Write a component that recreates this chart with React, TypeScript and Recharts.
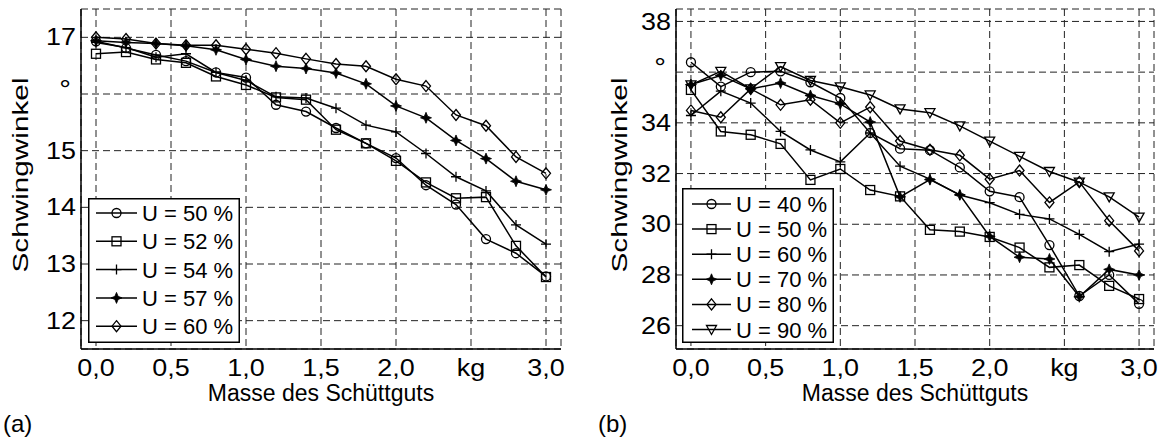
import { CartesianGrid, Label, Legend, Line, LineChart, XAxis, YAxis } from "recharts";

// Masse des Schüttguts in kg
const masse = [0, 0.2, 0.4, 0.6, 0.8, 1.0, 1.2, 1.4, 1.6, 1.8, 2.0, 2.2, 2.4, 2.6, 2.8, 3.0];
const xTicks = [0, 0.5, 1, 1.5, 2, 2.5, 3];

// (a) Schwingwinkel in Grad
const a50 = [16.93, 16.81, 16.69, 16.58, 16.38, 16.29, 15.81, 15.69, 15.4, 15.13, 14.87, 14.39, 14.05, 13.44, 13.19, 12.78];
const a52 = [16.71, 16.74, 16.61, 16.55, 16.31, 16.16, 15.94, 15.9, 15.37, 15.13, 14.82, 14.44, 14.16, 14.18, 13.32, 12.77];
const a54 = [16.91, 16.82, 16.65, 16.71, 16.38, 16.24, 15.95, 15.93, 15.75, 15.45, 15.33, 14.95, 14.54, 14.29, 13.69, 13.35];
const a57 = [16.94, 16.91, 16.89, 16.85, 16.78, 16.61, 16.49, 16.45, 16.37, 16.18, 15.79, 15.58, 15.18, 14.86, 14.46, 14.31];
const a60 = [17.0, 16.97, 16.89, 16.86, 16.86, 16.79, 16.72, 16.62, 16.53, 16.49, 16.26, 16.14, 15.63, 15.44, 14.89, 14.6];
const yTicksA = [12, 13, 14, 15, 16, 17];

// (b)
const b40 = [36.39, 35.43, 36.0, 36.03, 35.6, 34.98, 33.6, 32.98, 32.92, 32.24, 31.3, 31.07, 29.18, 27.17, 28.0, 26.86];
const b50 = [35.3, 33.66, 33.53, 33.17, 31.75, 32.18, 31.35, 31.1, 29.78, 29.71, 29.5, 29.08, 28.3, 28.39, 27.57, 27.05];
const b60 = [34.29, 35.25, 34.78, 33.66, 32.93, 32.46, 33.6, 32.29, 31.78, 31.15, 30.85, 30.39, 30.21, 29.6, 28.92, 29.22];
const b70 = [35.51, 35.87, 35.34, 35.57, 35.08, 34.75, 34.03, 31.08, 31.76, 31.16, 29.52, 28.7, 28.63, 27.14, 28.22, 28.0];
const b80 = [34.49, 34.22, 35.34, 34.71, 34.91, 34.0, 34.62, 33.28, 32.94, 32.72, 31.78, 32.12, 30.86, 31.67, 30.14, 28.95];
const b90 = [35.5, 36.03, 35.34, 36.22, 35.67, 35.42, 35.1, 34.55, 34.4, 33.88, 33.28, 32.68, 32.08, 31.66, 31.08, 30.28];
const yTicksB = [26, 28, 30, 32, 34, 36, 38];

const FONT = "'Liberation Sans', Arial, sans-serif";

type Shape = "circle" | "square" | "plus" | "star" | "diamond" | "triangle";

const seriesA: { key: string; name: string; shape: Shape; values: number[] }[] = [
  { key: "u50", name: "U = 50 %", shape: "circle", values: a50 },
  { key: "u52", name: "U = 52 %", shape: "square", values: a52 },
  { key: "u54", name: "U = 54 %", shape: "plus", values: a54 },
  { key: "u57", name: "U = 57 %", shape: "star", values: a57 },
  { key: "u60", name: "U = 60 %", shape: "diamond", values: a60 },
];

const seriesB: { key: string; name: string; shape: Shape; values: number[] }[] = [
  { key: "u40", name: "U = 40 %", shape: "circle", values: b40 },
  { key: "u50", name: "U = 50 %", shape: "square", values: b50 },
  { key: "u60", name: "U = 60 %", shape: "plus", values: b60 },
  { key: "u70", name: "U = 70 %", shape: "star", values: b70 },
  { key: "u80", name: "U = 80 %", shape: "diamond", values: b80 },
  { key: "u90", name: "U = 90 %", shape: "triangle", values: b90 },
];

const toRows = (series: typeof seriesA) =>
  masse.map((m, i) => {
    const row: Record<string, number> = { m };
    series.forEach((s) => (row[s.key] = s.values[i]));
    return row;
  });

const rowsA = toRows(seriesA);
const rowsB = toRows(seriesB);

const fmtX = (v: number) => (v === 2.5 ? "kg" : v.toFixed(1).replace(".", ","));

// tick text in the original is a bit wider than plain Arial
const STRETCH = 1.17;

function XTick({ x, y, payload }: any) {
  return (
    <text
      x={x}
      y={y}
      dy="0.71em"
      textAnchor="middle"
      transform={`translate(${x},0) scale(${STRETCH},1) translate(${-x},0)`}
      fontFamily={FONT}
      fontSize={23}
      fill="#000"
    >
      {fmtX(payload.value)}
    </text>
  );
}

function makeYTick(degreeAt: number) {
  return function YTick({ x, y, payload }: any) {
    const deg = payload.value === degreeAt;
    const tx = deg ? x - 5 : x;
    return (
      <text
        x={tx}
        y={deg ? y + 4 : y}
        dy={deg ? 0 : "0.355em"}
        textAnchor="end"
        transform={`translate(${tx},0) scale(${STRETCH},1) translate(${-tx},0)`}
        fontFamily={FONT}
        fontSize={deg ? 25 : 23}
        fill="#000"
      >
        {deg ? "°" : String(payload.value)}
      </text>
    );
  };
}

function Marker({ shape, cx, cy }: { shape: Shape; cx: number; cy: number }) {
  const st = { stroke: "#000", strokeWidth: 1.3, fill: "none" };
  switch (shape) {
    case "circle":
      return <circle cx={cx} cy={cy} r={4.5} {...st} />;
    case "square":
      return <rect x={cx - 4.5} y={cy - 4.5} width={9} height={9} {...st} />;
    case "plus":
      return <path d={`M${cx - 5},${cy}H${cx + 5}M${cx},${cy - 5}V${cy + 5}`} {...st} />;
    case "star":
      return (
        <path
          d={`M${cx},${cy - 5.5}L${cx + 1.6},${cy - 1.6}L${cx + 5.5},${cy}L${cx + 1.6},${cy + 1.6}L${cx},${cy + 5.5}L${cx - 1.6},${cy + 1.6}L${cx - 5.5},${cy}L${cx - 1.6},${cy - 1.6}Z`}
          fill="#000"
          stroke="#000"
          strokeWidth={0.8}
        />
      );
    case "diamond":
      return <path d={`M${cx},${cy - 5.5}L${cx + 4.5},${cy}L${cx},${cy + 5.5}L${cx - 4.5},${cy}Z`} {...st} />;
    case "triangle":
      return <path d={`M${cx - 5},${cy - 4}L${cx + 5},${cy - 4}L${cx},${cy + 5}Z`} {...st} />;
  }
}

function LegendBox({
  series,
  width,
  height,
  first,
  step,
  x0,
  x1,
  tx,
}: {
  series: typeof seriesA;
  width: number;
  height: number;
  first: number;
  step: number;
  x0: number;
  x1: number;
  tx: number;
}) {
  return (
    <svg width={width} height={height} style={{ display: "block", background: "#fff" }}>
      <rect x={0.75} y={0.75} width={width - 1.5} height={height - 1.5} fill="#fff" stroke="#000" strokeWidth={1.5} />
      {series.map((s, i) => {
        const y = first + i * step;
        return (
          <g key={s.key}>
            <line x1={x0} x2={x1} y1={y} y2={y} stroke="#000" strokeWidth={1.5} />
            <Marker shape={s.shape} cx={(x0 + x1) / 2} cy={y} />
            <text x={tx} y={y + 8} fontSize={22} fontFamily={FONT} fill="#000">
              {s.name}
            </text>
          </g>
        );
      })}
    </svg>
  );
}

function Panel({
  rows,
  series,
  yDomain,
  yTicks,
  degreeAt,
  width,
  margin,
  yTitleX,
  tag,
  tagX,
  legend,
}: {
  rows: Record<string, number>[];
  series: typeof seriesA;
  yDomain: [number, number];
  yTicks: number[];
  degreeAt: number;
  width: number;
  margin: { top: number; right: number; bottom: number; left: number };
  yTitleX: number;
  tag: string;
  tagX: number;
  legend: { left: number; top: number; width: number; height: number; first: number; step: number; x0: number; x1: number; tx: number };
}) {
  const YTick = makeYTick(degreeAt);
  return (
    <LineChart width={width} height={437} data={rows} margin={margin} style={{ fontFamily: FONT }}>
      <CartesianGrid stroke="#222" strokeDasharray="7 4" strokeWidth={1} />
      <XAxis
        dataKey="m"
        type="number"
        domain={[-0.1, 3.1]}
        ticks={xTicks}
        interval={0}
        allowDataOverflow
        tick={<XTick />}
        tickLine={false}
        tickSize={0}
        tickMargin={11}
        height={30}
        axisLine={{ stroke: "#000", strokeWidth: 1.5 }}
      >
        <Label
          content={(p: any) => {
            const vb = p.viewBox || { x: 0, width: 0 };
            return (
              <g fontFamily={FONT} fill="#000">
                <text x={vb.x + vb.width / 2} y={401} textAnchor="middle" fontSize={23}>
                  Masse des Schüttguts
                </text>
                <text x={tagX} y={432} fontSize={24}>
                  {tag}
                </text>
              </g>
            );
          }}
        />
      </XAxis>
      <XAxis
        xAxisId="top"
        orientation="top"
        dataKey="m"
        type="number"
        domain={[-0.1, 3.1]}
        ticks={xTicks}
        tick={false}
        tickLine={false}
        height={0}
        axisLine={{ stroke: "#000", strokeWidth: 1.5 }}
      />
      <YAxis
        type="number"
        domain={yDomain}
        ticks={yTicks}
        interval={0}
        allowDataOverflow
        tick={<YTick />}
        tickLine={false}
        tickSize={0}
        tickMargin={5}
        width={70}
        axisLine={{ stroke: "#000", strokeWidth: 1.5 }}
      >
        <Label
          content={(p: any) => {
            const vb = p.viewBox || { y: 0, height: 0 };
            return (
              <text
                transform={`translate(${yTitleX},${vb.y + vb.height / 2 - 4}) rotate(-90)`}
                textAnchor="middle"
                textLength={195}
                lengthAdjust="spacingAndGlyphs"
                fontFamily={FONT}
                fontSize={22}
                fill="#000"
              >
                Schwingwinkel
              </text>
            );
          }}
        />
      </YAxis>
      <YAxis
        yAxisId="right"
        orientation="right"
        type="number"
        domain={yDomain}
        ticks={yTicks}
        tick={false}
        tickLine={false}
        width={0}
        axisLine={{ stroke: "#000", strokeWidth: 1.5 }}
      />
      {series.map((s) => (
        <Line
          key={s.key}
          dataKey={s.key}
          name={s.name}
          type="linear"
          stroke="#000"
          strokeWidth={1.5}
          isAnimationActive={false}
          activeDot={false}
          dot={(p: any) => <Marker key={`${s.key}-${p.index}`} shape={s.shape} cx={p.cx} cy={p.cy} />}
        />
      ))}
      <Legend
        layout="vertical"
        align="center"
        verticalAlign="middle"
        wrapperStyle={{ left: legend.left, top: legend.top, width: legend.width, height: legend.height }}
        content={() => (
          <LegendBox
            series={series}
            width={legend.width}
            height={legend.height}
            first={legend.first}
            step={legend.step}
            x0={legend.x0}
            x1={legend.x1}
            tx={legend.tx}
          />
        )}
      />
    </LineChart>
  );
}

export default function App() {
  return (
    <div style={{ position: "absolute", left: 0, top: 0, width: 1163, height: 437, background: "#fff" }}>
      <div style={{ position: "absolute", left: 0, top: 0 }}>
        <Panel
          rows={rowsA}
          series={seriesA}
          yDomain={[11.5, 17.5]}
          yTicks={yTicksA}
          degreeAt={16}
          width={581}
          margin={{ top: 9, right: 20, bottom: 58, left: 11 }}
          yTitleX={28}
          tag="(a)"
          tagX={3}
          legend={{ left: 88, top: 198, width: 152, height: 145, first: 15, step: 28.3, x0: 8, x1: 49, tx: 54 }}
        />
      </div>
      <div style={{ position: "absolute", left: 581, top: 0 }}>
        <Panel
          rows={rowsB}
          series={seriesB}
          yDomain={[25.08, 38.49]}
          yTicks={yTicksB}
          degreeAt={36}
          width={582}
          margin={{ top: 9, right: 9, bottom: 58, left: 25 }}
          yTitleX={46}
          tag="(b)"
          tagX={17}
          legend={{ left: 101, top: 188, width: 152, height: 155, first: 16, step: 25.1, x0: 10, x1: 49, tx: 54 }}
        />
      </div>
    </div>
  );
}
